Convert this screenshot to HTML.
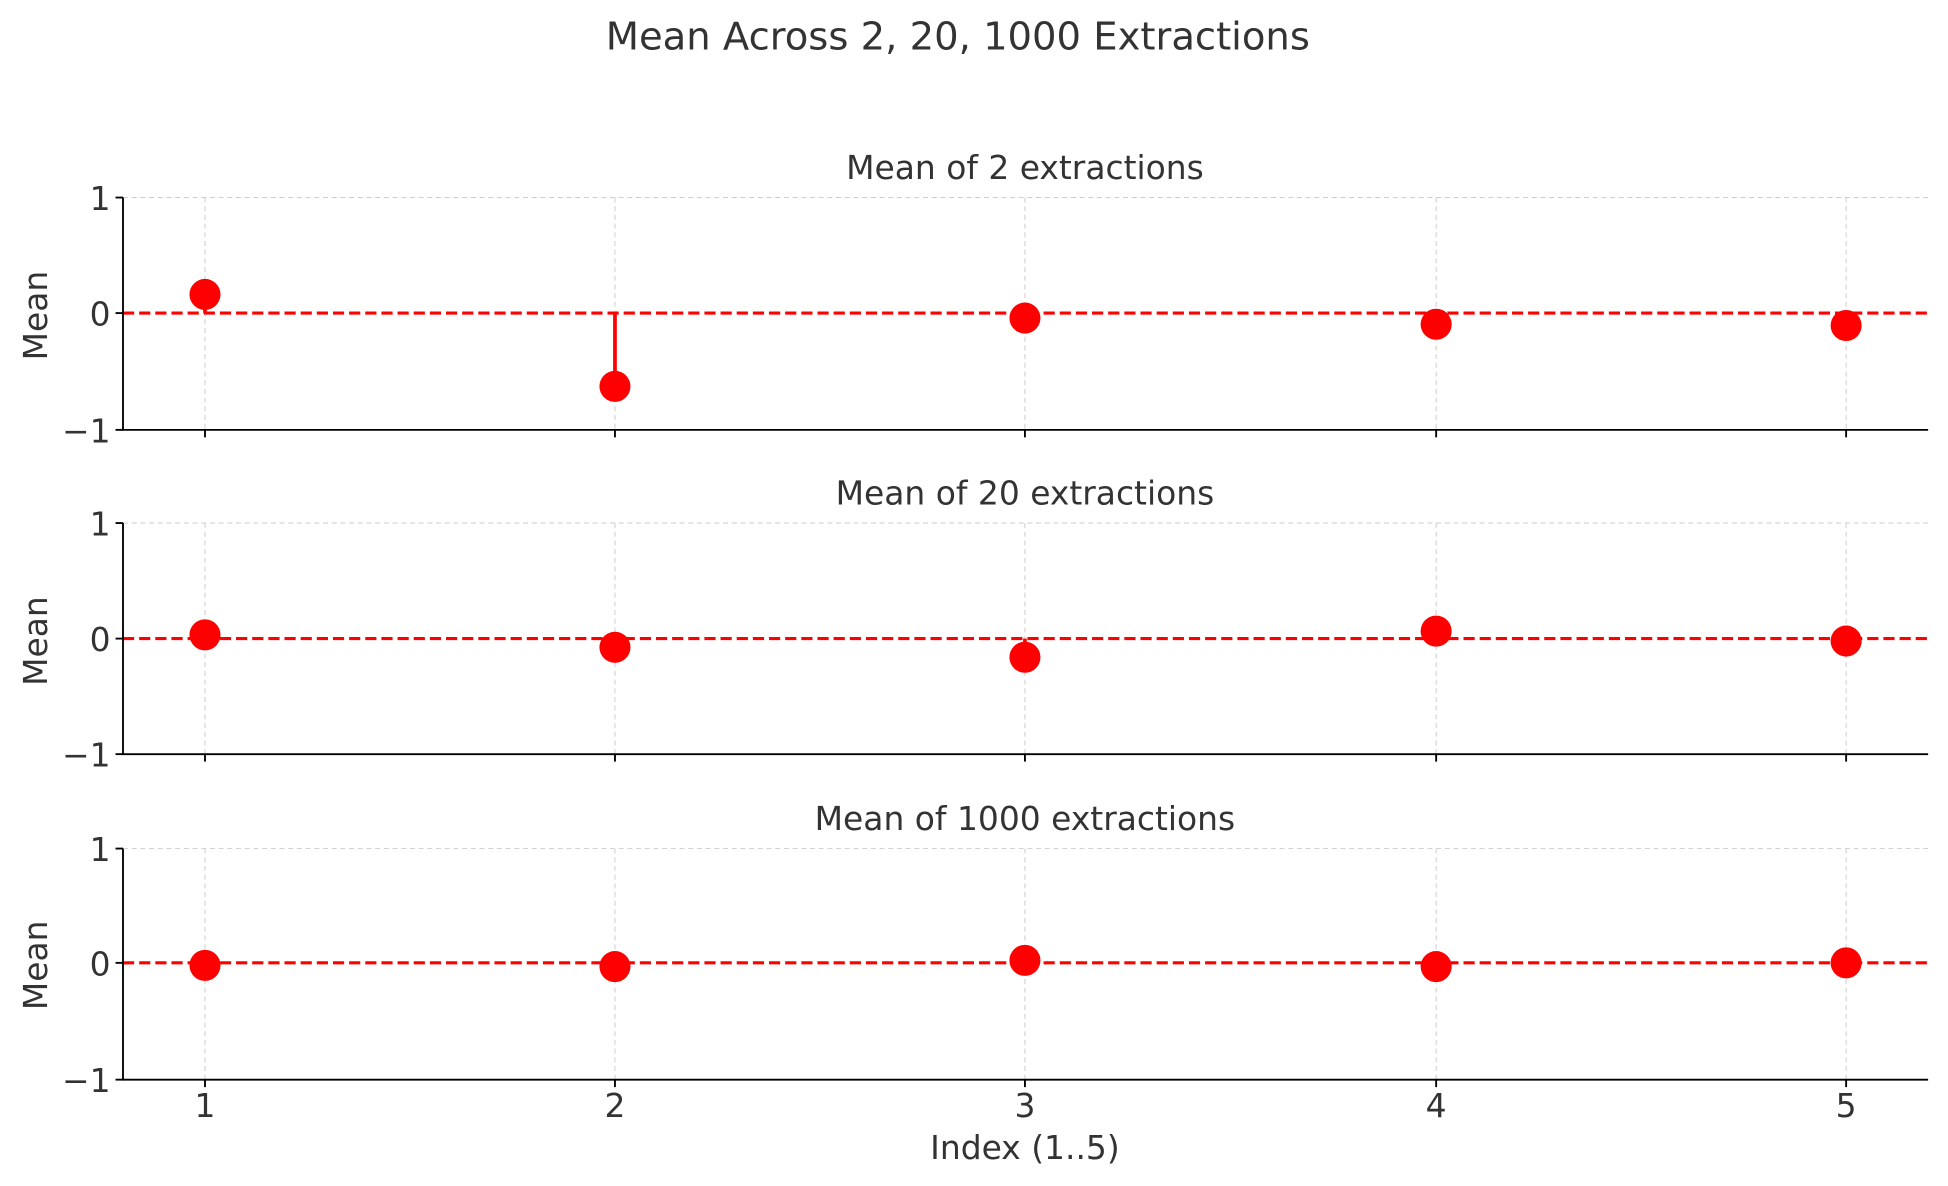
<!DOCTYPE html>
<html><head><meta charset="utf-8"><style>
html,body{margin:0;padding:0;background:#fff;}
svg{display:block;}
text{font-family:"DejaVu Sans","Liberation Sans",sans-serif;fill:#333;}
</style></head><body>
<svg width="1948" height="1186" viewBox="0 0 1568 954.6" preserveAspectRatio="none" xmlns="http://www.w3.org/2000/svg">
<text x="771" y="40" font-size="31" text-anchor="middle">Mean Across 2, 20, 1000 Extractions</text>
<g>
 <g stroke="#ccc" stroke-width="0.8" stroke-dasharray="4,3">
  <line x1="165" y1="159" x2="165" y2="346"/><line x1="495" y1="159" x2="495" y2="346"/><line x1="825" y1="159" x2="825" y2="346"/><line x1="1156" y1="159" x2="1156" y2="346"/><line x1="1486" y1="159" x2="1486" y2="346"/>
  <line x1="99" y1="159" x2="1552" y2="159"/>
 </g>
 <g stroke="#f00" stroke-width="3"><line x1="165" y1="252" x2="165" y2="237"/><line x1="495" y1="252" x2="495" y2="311"/><line x1="825" y1="252" x2="825" y2="256"/><line x1="1156" y1="252" x2="1156" y2="261"/><line x1="1486" y1="252" x2="1486" y2="262"/></g>
 <line x1="99" y1="252" x2="1552" y2="252" stroke="#f00" stroke-width="2.5" stroke-dasharray="9,4"/>
 <g fill="#f00"><circle cx="165" cy="237" r="12.5"/><circle cx="495" cy="311" r="12.5"/><circle cx="825" cy="256" r="12.5"/><circle cx="1156" cy="261" r="12.5"/><circle cx="1486" cy="262" r="12.5"/></g>
 <g stroke="#000" stroke-width="1.5"><line x1="99" y1="159" x2="99" y2="346"/><line x1="98.3" y1="346" x2="1552" y2="346"/>
 <line x1="93" y1="159" x2="99" y2="159"/><line x1="93" y1="252" x2="99" y2="252"/><line x1="93" y1="346" x2="99" y2="346"/>
 <line x1="165" y1="346" x2="165" y2="352"/><line x1="495" y1="346" x2="495" y2="352"/><line x1="825" y1="346" x2="825" y2="352"/><line x1="1156" y1="346" x2="1156" y2="352"/><line x1="1486" y1="346" x2="1486" y2="352"/></g>
 <text x="825" y="144" font-size="26.5" text-anchor="middle">Mean of 2 extractions</text>
 <g font-size="26.5" text-anchor="end"><text x="89" y="169">1</text><text x="89" y="262">0</text><text x="89" y="356">−1</text></g>
 <text transform="translate(38,254) rotate(-90)" font-size="26.5" text-anchor="middle">Mean</text>
</g>
<g>
 <g stroke="#ccc" stroke-width="0.8" stroke-dasharray="4,3">
  <line x1="165" y1="421" x2="165" y2="607"/><line x1="495" y1="421" x2="495" y2="607"/><line x1="825" y1="421" x2="825" y2="607"/><line x1="1156" y1="421" x2="1156" y2="607"/><line x1="1486" y1="421" x2="1486" y2="607"/>
  <line x1="99" y1="421" x2="1552" y2="421"/>
 </g>
 <g stroke="#f00" stroke-width="3"><line x1="495" y1="514" x2="495" y2="521"/><line x1="825" y1="514" x2="825" y2="529"/></g>
 <line x1="99" y1="514" x2="1552" y2="514" stroke="#f00" stroke-width="2.5" stroke-dasharray="9,4"/>
 <g fill="#f00"><circle cx="165" cy="511" r="12.5"/><circle cx="495" cy="521" r="12.5"/><circle cx="825" cy="529" r="12.5"/><circle cx="1156" cy="508" r="12.5"/><circle cx="1486" cy="516" r="12.5"/></g>
 <g stroke="#000" stroke-width="1.5"><line x1="99" y1="421" x2="99" y2="607"/><line x1="98.3" y1="607" x2="1552" y2="607"/>
 <line x1="93" y1="421" x2="99" y2="421"/><line x1="93" y1="514" x2="99" y2="514"/><line x1="93" y1="607" x2="99" y2="607"/>
 <line x1="165" y1="607" x2="165" y2="613"/><line x1="495" y1="607" x2="495" y2="613"/><line x1="825" y1="607" x2="825" y2="613"/><line x1="1156" y1="607" x2="1156" y2="613"/><line x1="1486" y1="607" x2="1486" y2="613"/></g>
 <text x="825" y="406" font-size="26.5" text-anchor="middle">Mean of 20 extractions</text>
 <g font-size="26.5" text-anchor="end"><text x="89" y="431">1</text><text x="89" y="524">0</text><text x="89" y="617">−1</text></g>
 <text transform="translate(38,516) rotate(-90)" font-size="26.5" text-anchor="middle">Mean</text>
</g>
<g>
 <g stroke="#ccc" stroke-width="0.8" stroke-dasharray="4,3">
  <line x1="165" y1="683" x2="165" y2="869"/><line x1="495" y1="683" x2="495" y2="869"/><line x1="825" y1="683" x2="825" y2="869"/><line x1="1156" y1="683" x2="1156" y2="869"/><line x1="1486" y1="683" x2="1486" y2="869"/>
  <line x1="99" y1="683" x2="1552" y2="683"/>
 </g>
 <line x1="99" y1="775" x2="1552" y2="775" stroke="#f00" stroke-width="2.5" stroke-dasharray="9,4"/>
 <g fill="#f00"><circle cx="165" cy="777" r="12.5"/><circle cx="495" cy="778" r="12.5"/><circle cx="825" cy="773" r="12.5"/><circle cx="1156" cy="778" r="12.5"/><circle cx="1486" cy="775" r="12.5"/></g>
 <g stroke="#000" stroke-width="1.5"><line x1="99" y1="683" x2="99" y2="869"/><line x1="98.3" y1="869" x2="1552" y2="869"/>
 <line x1="93" y1="683" x2="99" y2="683"/><line x1="93" y1="775" x2="99" y2="775"/><line x1="93" y1="869" x2="99" y2="869"/>
 <line x1="165" y1="869" x2="165" y2="875"/><line x1="495" y1="869" x2="495" y2="875"/><line x1="825" y1="869" x2="825" y2="875"/><line x1="1156" y1="869" x2="1156" y2="875"/><line x1="1486" y1="869" x2="1486" y2="875"/></g>
 <text x="825" y="668" font-size="26.5" text-anchor="middle">Mean of 1000 extractions</text>
 <g font-size="26.5" text-anchor="end"><text x="89" y="693">1</text><text x="89" y="785">0</text><text x="89" y="879">−1</text></g>
 <text transform="translate(38,777) rotate(-90)" font-size="26.5" text-anchor="middle">Mean</text>
 <g font-size="26.5" text-anchor="middle"><text x="165" y="899">1</text><text x="495" y="899">2</text><text x="825" y="899">3</text><text x="1156" y="899">4</text><text x="1486" y="899">5</text></g>
 <text x="825" y="933" font-size="26.5" text-anchor="middle">Index (1..5)</text>
</g>
</svg>
</body></html>
